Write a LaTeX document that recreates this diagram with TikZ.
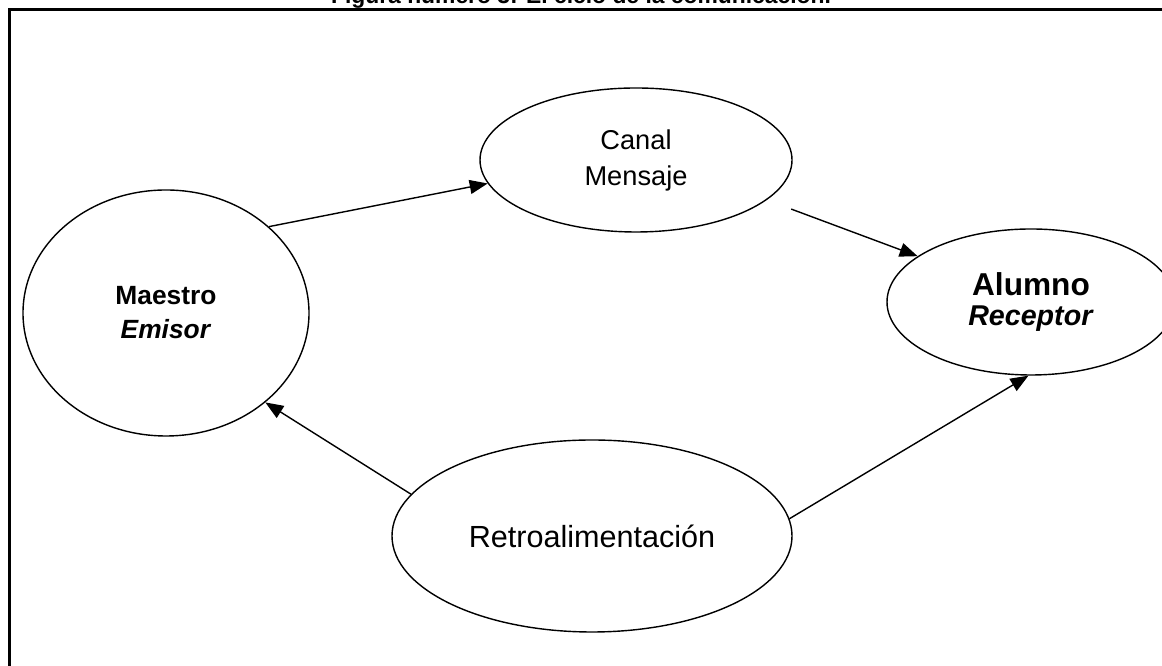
\documentclass[tikz,border=0pt]{standalone}
\usepackage{fontspec}
\setmainfont{Liberation Sans}
\usetikzlibrary{arrows.meta, shapes.geometric}
\newcommand{\cicloArrow}{{Triangle[length=3.6mm, width=2.8mm]}}

\begin{document}
\begin{tikzpicture}[burbuja/.style={draw, ellipse, line width=0.8pt, inner sep=0pt, align=center}, flecha/.style={line width=0.8pt}]
	\def\W{23.24}
	\def\H{13.32}

	\useasboundingbox	(0,0) rectangle (\W,\H);
	\clip	(0,0) rectangle (\W,\H);

	\draw[line width=1.7pt]	(0.19,-0.5) |- (\W+0.5,\H-0.19);
	\node[anchor=base, font=\fontsize{13}{15}\selectfont\bfseries] (titulo)	at (11.62,13.24) {Figura número 3: El ciclo de la comunicación.};

	\node[burbuja, minimum width=5.72cm, minimum height=4.92cm, font=\fontsize{15}{19.3}\selectfont\bfseries] (maestro)	at (3.32,7.06) {Maestro\\\textit{Emisor}};
	\node[burbuja, minimum width=6.24cm, minimum height=2.88cm, font=\fontsize{15.5}{20.5}\selectfont] (canal)	at (12.72,10.12) {Canal\\Mensaje};
	\node[burbuja, minimum width=5.76cm, minimum height=2.92cm, font=\fontsize{16.3}{17.6}\selectfont\bfseries] (alumno)	at (20.62,7.28) {{\fontsize{18}{17.6}\selectfont Alumno}\\\textit{Receptor}};
	\node[burbuja, minimum width=8cm, minimum height=3.84cm, font=\fontsize{17.4}{20}\selectfont] (retro)	at (11.84,2.6) {Retroalimentación};

	\draw[flecha, -\cicloArrow]	(maestro.40) -- (canal.189);
	\draw[flecha, -\cicloArrow, shorten <=0.52cm]	(canal.-17) -- (alumno.158);
	\draw[flecha, -\cicloArrow]	(retro.167) -- (maestro.-42);
	\draw[flecha, -\cicloArrow]	(retro.5) -- (alumno.-92);
\end{tikzpicture}
\end{document}
